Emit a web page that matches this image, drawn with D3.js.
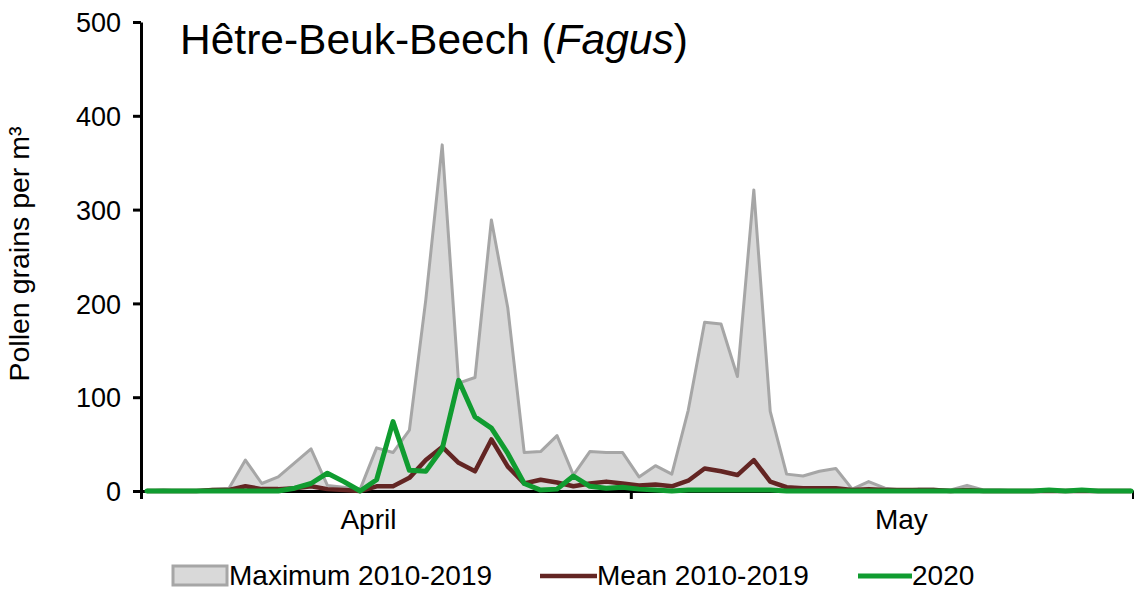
<!DOCTYPE html>
<html>
<head>
<meta charset="utf-8">
<script src="https://cdn.jsdelivr.net/npm/d3@7"></script>
<style>
  body { margin: 0; background: #fff; }
  text { font-family: "Liberation Sans", Arial, sans-serif; fill: #000; }
</style>
</head>
<body>
<script>
// daily values, 1 April .. 31 May
const maxVals = [0, 1, 0, 0, 2, 3, 33, 8, 15, 30, 45, 6, 4, 2, 46, 41, 65, 204, 369, 115,
  121, 289, 195, 41, 42, 59, 17, 42, 41, 41,
  15, 27, 18, 86, 180, 178, 122, 321, 85, 18, 16, 21, 24, 2, 10, 3, 1, 2, 2, 1,
  6, 1, 1, 0, 0, 1, 0, 1, 0, 0, 0];
const meanVals = [0, 0, 0, 0, 1, 1, 5, 2, 2, 3, 5, 2, 1, 0, 5, 5, 14, 33, 47, 30,
  21, 55, 26, 8, 12, 9, 5, 8, 10, 8,
  6, 7, 5, 11, 24, 21, 17, 33, 10, 4, 3, 3, 3, 1, 2, 1, 1, 1, 1, 0,
  1, 0, 0, 0, 0, 0, 0, 0, 0, 0, 0];
const vals2020 = [0, 0, 0, 0, 0, 0, 0, 0, 0, 3, 8, 19, 10, 0, 12, 74, 22, 21, 45, 118,
  79, 67, 40, 8, 1, 2, 16, 5, 3, 4,
  2, 1, 0, 1, 1, 1, 1, 1, 1, 0, 0, 0, 0, 0, 0, 0, 0, 0, 0, 0,
  0, 0, 0, 0, 0, 1, 0, 1, 0, 0, 0];
const months = ["April", "May"];
const monthPos = [13.5, 46];      // label position (day index)
const monthBreaks = [29.5];       // boundary between April and May
const yTicks = [0, 100, 200, 300, 400, 500];
const seriesNames = ["Maximum 2010-2019", "Mean 2010-2019", "2020"];

const W = 1134, H = 591;
const svg = d3.select('body').append('svg')
  .attr('width', W)
  .attr('height', H);

const x = d3.scaleLinear().domain([-0.366, 60.12]).range([141, 1133]);
const y = d3.scaleLinear().domain([0, 500]).range([491, 22]);

// area (max)
svg.append('path')
  .datum(maxVals)
  .attr('fill', '#d9d9d9')
  .attr('d', d3.area().x((d, i) => x(i)).y0(y(0)).y1(d => y(d)));

// axes
const xAxis = svg.append('g')
  .attr('transform', `translate(0,${y(0)})`)
  .call(d3.axisBottom(x)
    .tickValues([x.domain()[0]].concat(monthBreaks, [x.domain()[1]]))
    .tickSize(8).tickSizeOuter(0).tickFormat(''));
xAxis.selectAll('.domain, line').attr('stroke', '#000').attr('stroke-width', 3);

const yAxis = svg.append('g')
  .attr('transform', `translate(${x.range()[0]},0)`)
  .call(d3.axisLeft(y).tickValues(yTicks).tickSize(8).tickSizeOuter(0).tickPadding(12));
yAxis.selectAll('.domain, line').attr('stroke', '#000').attr('stroke-width', 3);
yAxis.selectAll('text')
  .style('font-size', '27px')
  .attr('dy', '0.36em');

svg.selectAll('.month')
  .data(months)
  .enter()
  .append('text')
  .attr('x', (d, i) => x(monthPos[i]))
  .attr('y', 529)
  .attr('text-anchor', 'middle')
  .style('font-size', '28px')
  .text(d => d);

const line = d3.line().x((d, i) => x(i)).y(d => y(d));

svg.append('path')
  .datum(maxVals)
  .attr('fill', 'none')
  .attr('stroke', '#a6a6a6')
  .attr('stroke-width', 3)
  .attr('stroke-linejoin', 'round')
  .attr('d', line);

svg.append('path')
  .datum(meanVals)
  .attr('fill', 'none')
  .attr('stroke', '#632523')
  .attr('stroke-width', 4.5)
  .attr('stroke-linejoin', 'round')
  .attr('d', line);

svg.append('path')
  .datum(vals2020)
  .attr('fill', 'none')
  .attr('stroke', '#109c30')
  .attr('stroke-width', 5)
  .attr('stroke-linejoin', 'round')
  .attr('stroke-linecap', 'round')
  .attr('d', line);

// y label
svg.append('text')
  .attr('transform', 'translate(29,254) rotate(-90)')
  .attr('text-anchor', 'middle')
  .style('font-size', '28.5px')
  .text('Pollen grains per m³');

// title
const title = svg.append('text')
  .attr('x', 180)
  .attr('y', 54)
  .style('font-size', '42.5px');
title.append('tspan').text('Hêtre-Beuk-Beech (');
title.append('tspan').style('font-style', 'italic').text('Fagus');
title.append('tspan').text(')');

// legend
const leg = svg.append('g');
leg.append('rect')
  .attr('x', 173).attr('y', 566)
  .attr('width', 54).attr('height', 19)
  .attr('fill', '#d9d9d9')
  .attr('stroke', '#a6a6a6')
  .attr('stroke-width', 3);
leg.append('line')
  .attr('x1', 540).attr('x2', 597)
  .attr('y1', 576).attr('y2', 576)
  .attr('stroke', '#632523').attr('stroke-width', 4.5);
leg.append('line')
  .attr('x1', 858).attr('x2', 912)
  .attr('y1', 576).attr('y2', 576)
  .attr('stroke', '#109c30').attr('stroke-width', 5);
const legX = [229, 597, 912];
leg.selectAll('.lt')
  .data(seriesNames)
  .enter()
  .append('text')
  .attr('x', (d, i) => legX[i])
  .attr('y', 585)
  .style('font-size', '28px')
  .text(d => d);
</script>
</body>
</html>
